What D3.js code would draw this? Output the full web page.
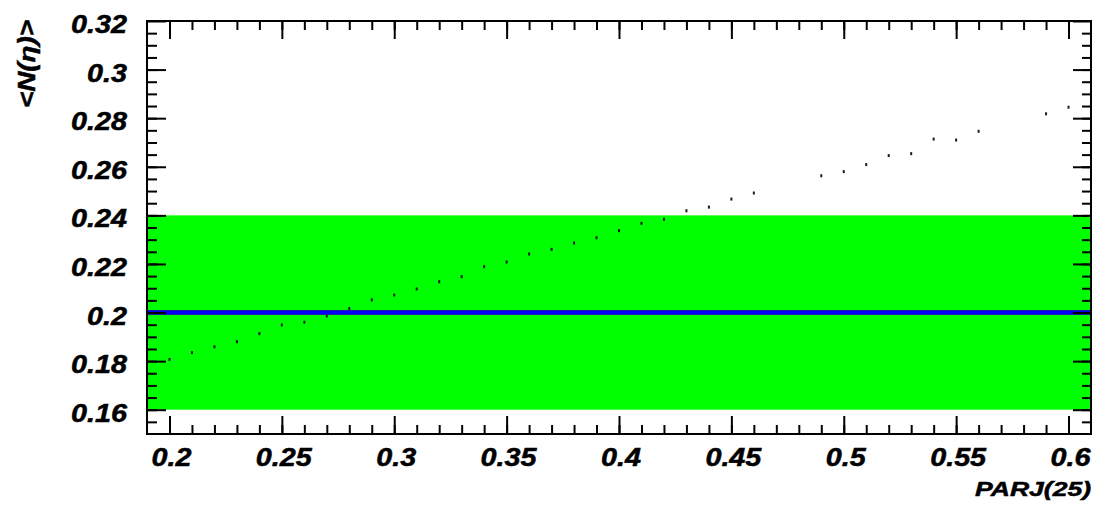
<!DOCTYPE html>
<html>
<head>
<meta charset="utf-8">
<script src="https://cdn.jsdelivr.net/npm/d3@7"></script>
<style>
  body { margin: 0; background: #fff; }
  text { font-family: "Liberation Sans", Arial, sans-serif; font-weight: bold; font-style: italic;
         stroke: #000; stroke-width: 0.5px; }
</style>
</head>
<body>
<div id="chart"></div>
<script>
// PARJ(25) scan values and the resulting <N(eta)>
const parj = [0.20, 0.21, 0.22, 0.23, 0.24, 0.25, 0.26, 0.27, 0.28, 0.29,
              0.30, 0.31, 0.32, 0.33, 0.34, 0.35, 0.36, 0.37, 0.38, 0.39,
              0.40, 0.41, 0.42, 0.43, 0.44, 0.45, 0.46, 0.49, 0.50, 0.51,
              0.52, 0.53, 0.54, 0.55, 0.56, 0.59, 0.60];
const nEta = [0.1807, 0.1835, 0.1859, 0.1880, 0.1913, 0.1949, 0.1960, 0.1986, 0.2016, 0.2052,
              0.2072, 0.2097, 0.2127, 0.2148, 0.2189, 0.2208, 0.2241, 0.2260, 0.2286, 0.2308,
              0.2337, 0.2367, 0.2384, 0.2419, 0.2434, 0.2467, 0.2492, 0.2563, 0.2580, 0.2609,
              0.2646, 0.2654, 0.2714, 0.2710, 0.2746, 0.2818, 0.2845];

// reference value and its band
const refValue = 0.20;
const refBand = [0.16, 0.24];

const xTicks = [0.2, 0.25, 0.3, 0.35, 0.4, 0.45, 0.5, 0.55, 0.6];
const yTicks = [0.16, 0.18, 0.2, 0.22, 0.24, 0.26, 0.28, 0.3, 0.32];

const width = 1096, height = 505;
const frame = { left: 147, right: 1091, top: 21, bottom: 434 };

const x = d3.scaleLinear().domain([0.19, 0.61]).range([frame.left, frame.right]);
const y = d3.scaleLinear().domain([0.15, 0.32]).range([frame.bottom, frame.top]);

const svg = d3.select("#chart").append("svg")
  .attr("width", width)
  .attr("height", height);

// green band
svg.append("rect")
  .attr("x", frame.left)
  .attr("y", y(refBand[1]))
  .attr("width", frame.right - frame.left)
  .attr("height", y(refBand[0]) - y(refBand[1]))
  .attr("fill", "#00ff00");

// reference line
svg.append("line")
  .attr("x1", frame.left).attr("x2", frame.right)
  .attr("y1", y(refValue)).attr("y2", y(refValue))
  .attr("stroke", "#1c1ca8").attr("stroke-width", 5);
svg.append("line")
  .attr("x1", frame.left).attr("x2", frame.right)
  .attr("y1", y(refValue)).attr("y2", y(refValue))
  .attr("stroke", "#0000ff").attr("stroke-width", 3);

// points
svg.append("g").selectAll("rect")
  .data(parj.map((p, i) => [p, nEta[i]]))
  .enter()
  .append("rect")
  .attr("x", d => x(d[0]) - 1)
  .attr("y", d => y(d[1]) - 1.5)
  .attr("width", 2)
  .attr("height", 3)
  .attr("fill", "#1a1a1a");

// minor tick positions
const xMinor = d3.range(20, 61).map(v => v / 100);
const yMinor = d3.range(31, 64).map(v => v / 200);

function ticks(axisFn, scale, values, len, tx, ty) {
  const g = svg.append("g")
    .attr("transform", `translate(${tx},${ty})`)
    .call(axisFn(scale).tickValues(values).tickSize(len).tickFormat(""));
  g.select(".domain").remove();
  g.selectAll(".tick line").attr("stroke", "#000").attr("stroke-width", 2);
  return g;
}

// bottom & top
ticks(d3.axisBottom, x, xMinor, -9, 0, frame.bottom);
ticks(d3.axisBottom, x, xTicks, -18, 0, frame.bottom);
ticks(d3.axisTop, x, xMinor, -9, 0, frame.top);
ticks(d3.axisTop, x, xTicks, -18, 0, frame.top);
// left & right
ticks(d3.axisLeft, y, yMinor, -10, frame.left, 0);
ticks(d3.axisLeft, y, yTicks, -19, frame.left, 0);
ticks(d3.axisRight, y, yMinor, -9, frame.right, 0);
ticks(d3.axisRight, y, yTicks, -18, frame.right, 0);

// frame
svg.append("rect")
  .attr("x", frame.left).attr("y", frame.top)
  .attr("width", frame.right - frame.left).attr("height", frame.bottom - frame.top)
  .attr("fill", "none").attr("stroke", "#000").attr("stroke-width", 2);

// widen the glyphs a bit, the original font is broader
function stretch(sel, k) {
  sel.each(function () {
    const w = this.getComputedTextLength();
    d3.select(this).attr("textLength", w * k).attr("lengthAdjust", "spacingAndGlyphs");
  });
}

// tick labels
svg.append("g").selectAll("text")
  .data(xTicks)
  .enter()
  .append("text")
  .attr("x", d => x(d) + 2)
  .attr("y", 466)
  .attr("text-anchor", "middle")
  .attr("font-size", 25)
  .text(d => d)
  .call(stretch, 1.15);

svg.append("g").selectAll("text")
  .data(yTicks)
  .enter()
  .append("text")
  .attr("x", 127)
  .attr("y", d => y(d) + 12)
  .attr("text-anchor", "end")
  .attr("font-size", 25)
  .text(d => d)
  .call(stretch, 1.15);

// axis titles
svg.append("text")
  .attr("x", 1091)
  .attr("y", 496)
  .attr("text-anchor", "end")
  .attr("font-size", 21)
  .attr("textLength", 116)
  .attr("lengthAdjust", "spacingAndGlyphs")
  .text("PARJ(25)");

svg.append("text")
  .attr("transform", "translate(35,20) rotate(-90)")
  .attr("text-anchor", "end")
  .attr("font-size", 23)
  .attr("textLength", 88)
  .attr("lengthAdjust", "spacingAndGlyphs")
  .text("<N(η)>");
</script>
</body>
</html>
